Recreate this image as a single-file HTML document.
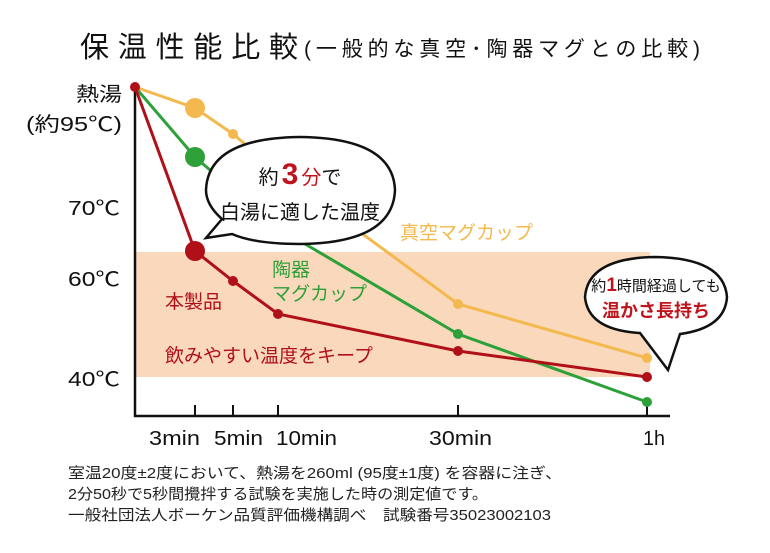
<!DOCTYPE html>
<html><head><meta charset="utf-8"><style>
body{margin:0;background:#fff}
svg text{font-family:"Liberation Sans","Noto Sans CJK JP",sans-serif}
</style></head><body>
<svg width="770" height="548" viewBox="0 0 770 548" xmlns="http://www.w3.org/2000/svg">
<text x="80" y="57" font-size="29" fill="#111" textLength="218" lengthAdjust="spacing">保温性能比較</text>
<text x="304" y="56" font-size="21" fill="#111" textLength="396" lengthAdjust="spacing">(一般的な真空･陶器マグとの比較)</text>
<rect x="135" y="252" width="515" height="125" fill="#f9d8bc"/>
<line x1="135" y1="84" x2="135" y2="417" stroke="#111" stroke-width="2.5"/>
<line x1="134" y1="416" x2="670" y2="416" stroke="#111" stroke-width="2.5"/>
<g stroke="#111" stroke-width="2">
<line x1="195" y1="405" x2="195" y2="416"/><line x1="233" y1="405" x2="233" y2="416"/>
<line x1="278" y1="405" x2="278" y2="416"/><line x1="458" y1="405" x2="458" y2="416"/>
<line x1="647" y1="405" x2="647" y2="416"/>
</g>
<g font-size="20" fill="#111">
<text x="76" y="101" textLength="46" lengthAdjust="spacingAndGlyphs">熱湯</text>
<text x="26" y="131" textLength="96" lengthAdjust="spacingAndGlyphs">(約95℃)</text>
<text x="68" y="215" textLength="52" lengthAdjust="spacingAndGlyphs">70℃</text>
<text x="68" y="286" textLength="52" lengthAdjust="spacingAndGlyphs">60℃</text>
<text x="68" y="386" textLength="52" lengthAdjust="spacingAndGlyphs">40℃</text>
</g>
<g font-size="20" fill="#111">
<text x="149" y="445" textLength="51" lengthAdjust="spacingAndGlyphs">3min</text>
<text x="214" y="445" textLength="49" lengthAdjust="spacingAndGlyphs">5min</text>
<text x="276" y="445" textLength="61" lengthAdjust="spacingAndGlyphs">10min</text>
<text x="429" y="445" textLength="63" lengthAdjust="spacingAndGlyphs">30min</text>
<text x="643" y="445" textLength="22" lengthAdjust="spacingAndGlyphs">1h</text>
</g>
<polyline points="135,87 195,108 233,134 278,172 458,304 647,358" fill="none" stroke="#f4b94e" stroke-width="3"/>
<polyline points="135,87 195,157 233,190 278,228 458,334 647,402" fill="none" stroke="#2ea03a" stroke-width="3"/>
<polyline points="135,87 195,251 233,281 278,314 458,351 647,377" fill="none" stroke="#b01018" stroke-width="3"/>
<g fill="#f4b94e"><circle cx="195" cy="108" r="10"/><circle cx="233" cy="134" r="5"/><circle cx="458" cy="304" r="5"/><circle cx="647" cy="358" r="5"/></g>
<g fill="#2ea03a"><circle cx="195" cy="157" r="10"/><circle cx="458" cy="334" r="5"/><circle cx="647" cy="402" r="5"/></g>
<g fill="#b01018"><circle cx="135" cy="87" r="5"/><circle cx="195" cy="251" r="10"/><circle cx="233" cy="281" r="5"/><circle cx="278" cy="314" r="5"/><circle cx="458" cy="351" r="5"/><circle cx="647" cy="377" r="5"/></g>
<path d="M222,219 Q206,205 206,190 Q208,138 300,137 Q393,138 395,190 Q393,243 300,244 Q255,244 232,234 L206,238 Z" fill="#fff" stroke="#111" stroke-width="2.5"/>
<text x="300" y="184" font-size="20" fill="#111" text-anchor="middle">約<tspan fill="#c0141c" font-size="30" font-weight="bold" dx="3">3</tspan><tspan fill="#c0141c" dx="3">分</tspan>で</text>
<text x="300" y="219" font-size="20" fill="#111" text-anchor="middle">白湯に適した温度</text>
<path d="M640,333 Q588,330 585,297 Q588,258 655,257 Q724,258 727,297 Q725,328 680,334 L668,370 Z" fill="#fff" stroke="#111" stroke-width="2.5"/>
<text x="656" y="291" font-size="15" fill="#111" text-anchor="middle">約<tspan fill="#c0141c" font-size="19" font-weight="bold">1</tspan>時間経過しても</text>
<text x="656" y="317" font-size="18" fill="#c0141c" font-weight="bold" text-anchor="middle">温かさ長持ち</text>
<text x="400" y="239" font-size="19" fill="#f4b94e">真空マグカップ</text>
<text x="272" y="276" font-size="19" fill="#2ea03a">陶器</text>
<text x="272" y="300" font-size="19" fill="#2ea03a">マグカップ</text>
<text x="165" y="308" font-size="19" fill="#b01018">本製品</text>
<text x="165" y="362" font-size="19" fill="#b01018">飲みやすい温度をキープ</text>
<g font-size="15" fill="#222">
<text x="68" y="478" textLength="494" lengthAdjust="spacingAndGlyphs">室温20度±2度において、熱湯を260ml (95度±1度) を容器に注ぎ、</text>
<text x="68" y="499" textLength="420" lengthAdjust="spacingAndGlyphs">2分50秒で5秒間攪拌する試験を実施した時の測定値です。</text>
<text x="68" y="520" textLength="483" lengthAdjust="spacingAndGlyphs">一般社団法人ボーケン品質評価機構調べ　試験番号35023002103</text>
</g>
</svg>
</body></html>
